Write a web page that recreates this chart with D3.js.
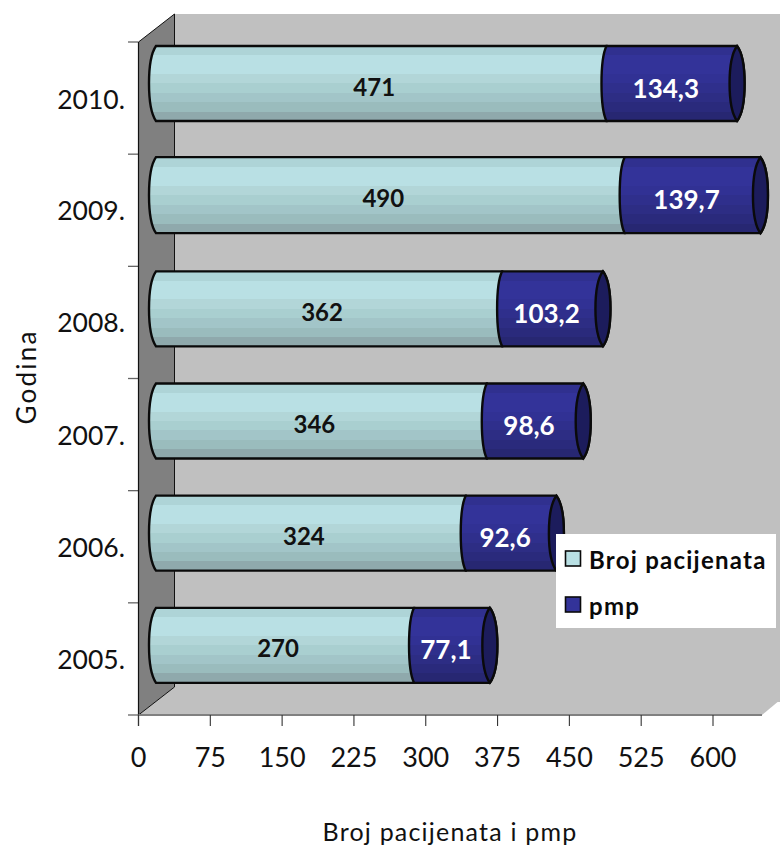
<!DOCTYPE html>
<html><head><meta charset="utf-8">
<script src="https://cdn.jsdelivr.net/npm/d3@7"></script>
<style>html,body{margin:0;background:#fff}svg{display:block}text{font-family:"Comic Sans MS",Lato,sans-serif}</style>
</head><body><div id="c"></div>
<script>
const years=["2010.","2009.","2008.","2007.","2006.","2005."];
const labelsA=["471","490","362","346","324","270"];
const labelsB=["134,3","139,7","103,2","98,6","92,6","77,1"];
const patients=[471,490,362,346,324,270];
const pmp=[134.3,139.7,103.2,98.6,92.6,77.1];
const xTicks=[0,75,150,225,300,375,450,525,600];
const seriesNames=["Broj pacijenata","pmp"];
const lightStops=["#aed4d7","#b9e0e4","#b9e0e4","#b2d6d8","#a9cfd0","#a2c5c8","#9abcbd","#8fa9ac"];
const darkStops=["#30308f","#333399","#333399","#313194","#2f2f8c","#2d2d84","#2a2a7c","#272772"];

const W=780,H=849;
const svg=d3.select("#c").append("svg").attr("width",W).attr("height",H);
const x=d3.scaleLinear().domain([0,600]).range([138.5,713]);
const y=d3.scaleBand().domain(years).range([42,715]);
const defs=svg.append("defs");
function grad(id,stops){
  const g=defs.append("linearGradient").attr("id",id).attr("x1",0).attr("y1",0).attr("x2",0).attr("y2",1);
  stops.forEach((c,i)=>{
    g.append("stop").attr("offset",i/stops.length).attr("stop-color",c);
    g.append("stop").attr("offset",(i+1)/stops.length).attr("stop-color",c);
  });
}
grad("gl",lightStops);grad("gd",darkStops);

// back wall, side wall, floor
const xr=x.range();
const dx=36,dy=28;
svg.append("rect").attr("x",xr[0]+dx).attr("y",14).attr("width",W-xr[0]-dx).attr("height",688).attr("fill","#c0c0c0");
svg.append("path").attr("fill","#c0c0c0")
  .attr("d",`M${xr[0]},715L${xr[0]+dx},687L${W},687L${W},700L762,715Z`);
svg.append("path").attr("fill","#808080").attr("stroke","#111").attr("stroke-width",1)
  .attr("d",`M${xr[0]},42L${xr[0]+dx},14L${xr[0]+dx},687L${xr[0]},715Z`);
svg.append("rect").attr("x",xr[0]+dx+.5).attr("y",14).attr("width",W-xr[0]-dx).attr("height",673).attr("fill","#c0c0c0");

// axes
const yEdges=d3.range(0,years.length+1).map(i=>42+i*y.step());
svg.append("g").selectAll("line").data(yEdges).join("line")
  .attr("x1",128).attr("x2",xr[0]).attr("y1",d=>d).attr("y2",d=>d)
  .attr("stroke","#666").attr("stroke-width",1.3);
svg.append("line").attr("x1",xr[0]).attr("x2",xr[0]).attr("y1",42).attr("y2",726).attr("stroke","#111").attr("stroke-width",1.2);
svg.append("line").attr("x1",xr[0]).attr("x2",762).attr("y1",715).attr("y2",715).attr("stroke","#808080").attr("stroke-width",2);
svg.append("g").selectAll("line").data(xTicks).join("line")
  .attr("x1",d=>x(d)).attr("x2",d=>x(d)).attr("y1",715).attr("y2",726)
  .attr("stroke","#333").attr("stroke-width",1.1);
svg.append("g").selectAll("text").data(xTicks).join("text")
  .attr("x",d=>x(d)).attr("y",767).attr("text-anchor","middle").attr("font-size",27).attr("fill","#111").text(d=>d);
svg.append("g").selectAll("text").data(years).join("text")
  .attr("x",125).attr("y",d=>y(d)+y.bandwidth()/2+10+(d==="2010."?1:0)).attr("text-anchor","end")
  .attr("font-size",26.5).attr("fill","#111").text(d=>d);
svg.append("text").attr("x",450).attr("y",841).attr("text-anchor","middle").attr("font-size",25).attr("letter-spacing",1.2).attr("fill","#111").text("Broj pacijenata i pmp");
svg.append("text").attr("transform","translate(36,377) rotate(-90)").attr("text-anchor","middle").attr("font-size",26).attr("letter-spacing",2.2).attr("fill","#111").text("Godina");

// bars
const bx=d=>x(d)+15;          // bars stand 15px in front of the axis origin
const barH=75,sw=2.4;
const bars=svg.append("g");
years.forEach((yr,i)=>{
  const top=y(yr)+(i===1?3:i===0?4:5), bot=top+barH+(i===1?1:0), mid=(top+bot)/2;
  const x0=bx(0)+2.5,x1=bx(patients[i]),x2=bx(patients[i]+pmp[i])+4;
  const g=bars.append("g");
  const down=(cx,rx)=>`C${cx+rx*.6},${top+6} ${cx+rx},${top+18} ${cx+rx},${mid}C${cx+rx},${bot-18} ${cx+rx*.6},${bot-6} ${cx},${bot}`;
  const up=(cx,rx)=>`C${cx+rx*.6},${bot-6} ${cx+rx},${bot-18} ${cx+rx},${mid}C${cx+rx},${top+18} ${cx+rx*.6},${top+6} ${cx},${top}`;
  // light segment runs under the dark one's curved left edge
  g.append("path").attr("d",`M${x0},${top}L${x1+2},${top}L${x1+2},${bot}L${x0},${bot}`+up(x0,-7)+"Z")
    .attr("fill","url(#gl)").attr("stroke","#0a0a0a").attr("stroke-width",sw);
  // dark segment with curved left edge
  g.append("path").attr("d",`M${x1+2},${top}L${x2},${top}`+down(x2,7.5)+`L${x1+2},${bot}`+up(x1+2,-5)+"Z")
    .attr("fill","url(#gd)").attr("stroke","#0a0a0a").attr("stroke-width",sw);
  // end cap
  g.append("path").attr("d",`M${x2},${top}`+down(x2,7.5)+up(x2,-7.5)+"Z").attr("fill","#1c1c5c").attr("stroke","#0a0a0a").attr("stroke-width",sw);
  g.append("text").attr("x",(x0+x1)/2-6).attr("y",mid+12).attr("text-anchor","middle").attr("font-size",24).attr("font-weight",700).attr("fill","#111").text(labelsA[i]);
  g.append("text").attr("x",(x1+x2)/2-5).attr("y",mid+14).attr("text-anchor","middle").attr("font-size",26).attr("font-weight",700).attr("fill","#fff").text(labelsB[i]);
});

// legend
svg.append("rect").attr("x",556).attr("y",534).attr("width",220).attr("height",94).attr("fill","#fff");
const ly=[559,605],lc=["#b9e0e4","#333399"];
seriesNames.forEach((n,i)=>{
  svg.append("rect").attr("x",565.5).attr("y",ly[i]-8).attr("width",15).attr("height",15).attr("fill",lc[i]).attr("stroke","#0a0a0a").attr("stroke-width",1.6);
  svg.append("text").attr("x",589).attr("y",ly[i]+10).attr("font-size",24).attr("font-weight",700).attr("letter-spacing",1.25).attr("fill","#0a0a0a").text(n);
});
</script></body></html>
